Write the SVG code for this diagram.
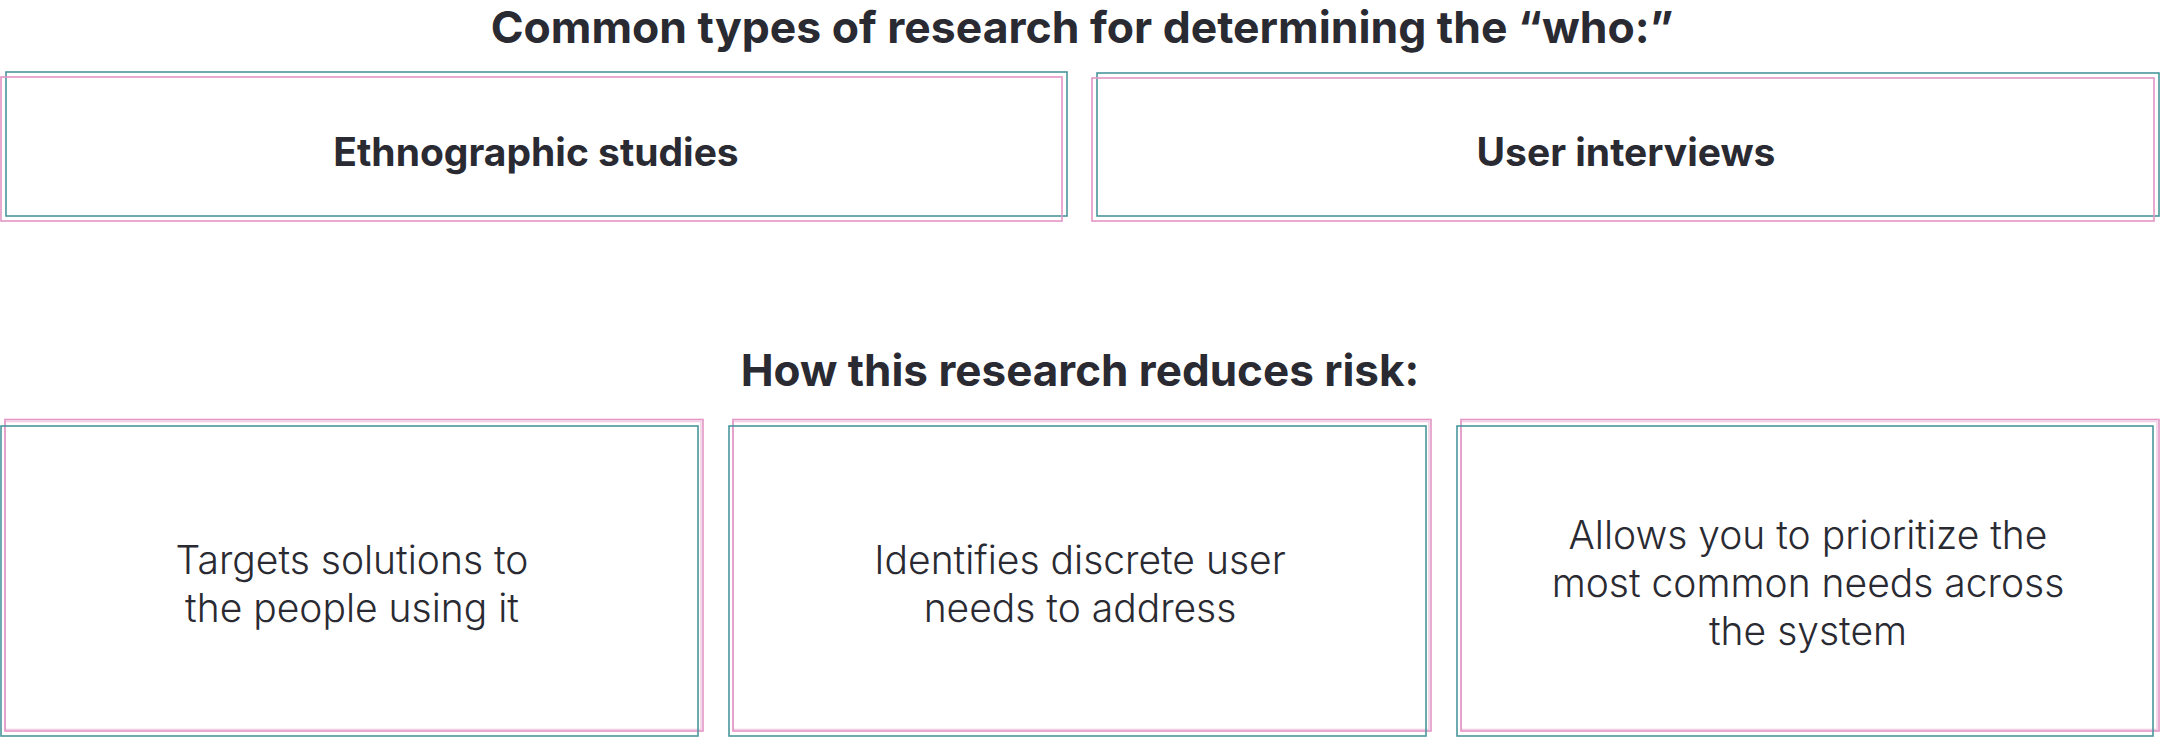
<svg xmlns="http://www.w3.org/2000/svg" width="2160" height="739" viewBox="0 0 2160 739">
<style>
.bg{fill:#ffffff}
.teal{fill:none;stroke:#4a969c;stroke-width:1.6}
.pink{fill:none;stroke:#e395c6;stroke-width:1.6}
.head{font-family:Inter,"Liberation Sans",sans-serif;font-weight:700;font-size:44px;fill:#2a2a32;text-anchor:middle}
.lab{font-family:Inter,"Liberation Sans",sans-serif;font-weight:700;font-size:39px;fill:#2a2a32;text-anchor:middle}
.body{font-family:Inter,"Liberation Sans",sans-serif;font-weight:300;font-size:39px;fill:#2a2a32;text-anchor:middle}
</style>
<rect class="bg" x="0" y="0" width="2160" height="739"/>
<g id="title1"><text class="head" x="1082" y="43" style="font-size:44.5px">Common types of research for determining the “who:”</text></g>
<g id="node-ethnographic">
<rect class="teal" x="6" y="72" width="1061" height="144"/>
<rect class="pink" x="1" y="77" width="1061" height="144"/>
<text class="lab" x="536" y="166">Ethnographic studies</text>
</g>
<g id="node-interviews">
<rect class="teal" x="1097" y="73" width="1062" height="143"/>
<rect class="pink" x="1092" y="78" width="1062" height="143"/>
<text class="lab" x="1626" y="166">User interviews</text>
</g>
<g id="title2"><text class="head" x="1080" y="386">How this research reduces risk:</text></g>
<g id="node-targets">
<rect class="pink" x="5" y="419.5" width="698" height="311.5"/>
<rect class="pink" x="5" y="421.5" width="696" height="308" stroke-opacity="0.45"/>
<rect class="teal" x="1" y="426" width="697" height="310"/>
<text class="body" x="352" y="574">Targets solutions to</text>
<text class="body" x="352" y="622">the people using it</text>
</g>
<g id="node-identifies">
<rect class="pink" x="733" y="419.5" width="698" height="311.5"/>
<rect class="pink" x="733" y="421.5" width="696" height="308" stroke-opacity="0.45"/>
<rect class="teal" x="729" y="426" width="697" height="310"/>
<text class="body" x="1080" y="574">Identifies discrete user</text>
<text class="body" x="1080" y="622">needs to address</text>
</g>
<g id="node-allows">
<rect class="pink" x="1461" y="419.5" width="698" height="311.5"/>
<rect class="pink" x="1461" y="421.5" width="696" height="308" stroke-opacity="0.45"/>
<rect class="teal" x="1457" y="426" width="696" height="310"/>
<text class="body" x="1808" y="549">Allows you to prioritize the</text>
<text class="body" x="1808" y="597">most common needs across</text>
<text class="body" x="1808" y="645">the system</text>
</g>
</svg>
